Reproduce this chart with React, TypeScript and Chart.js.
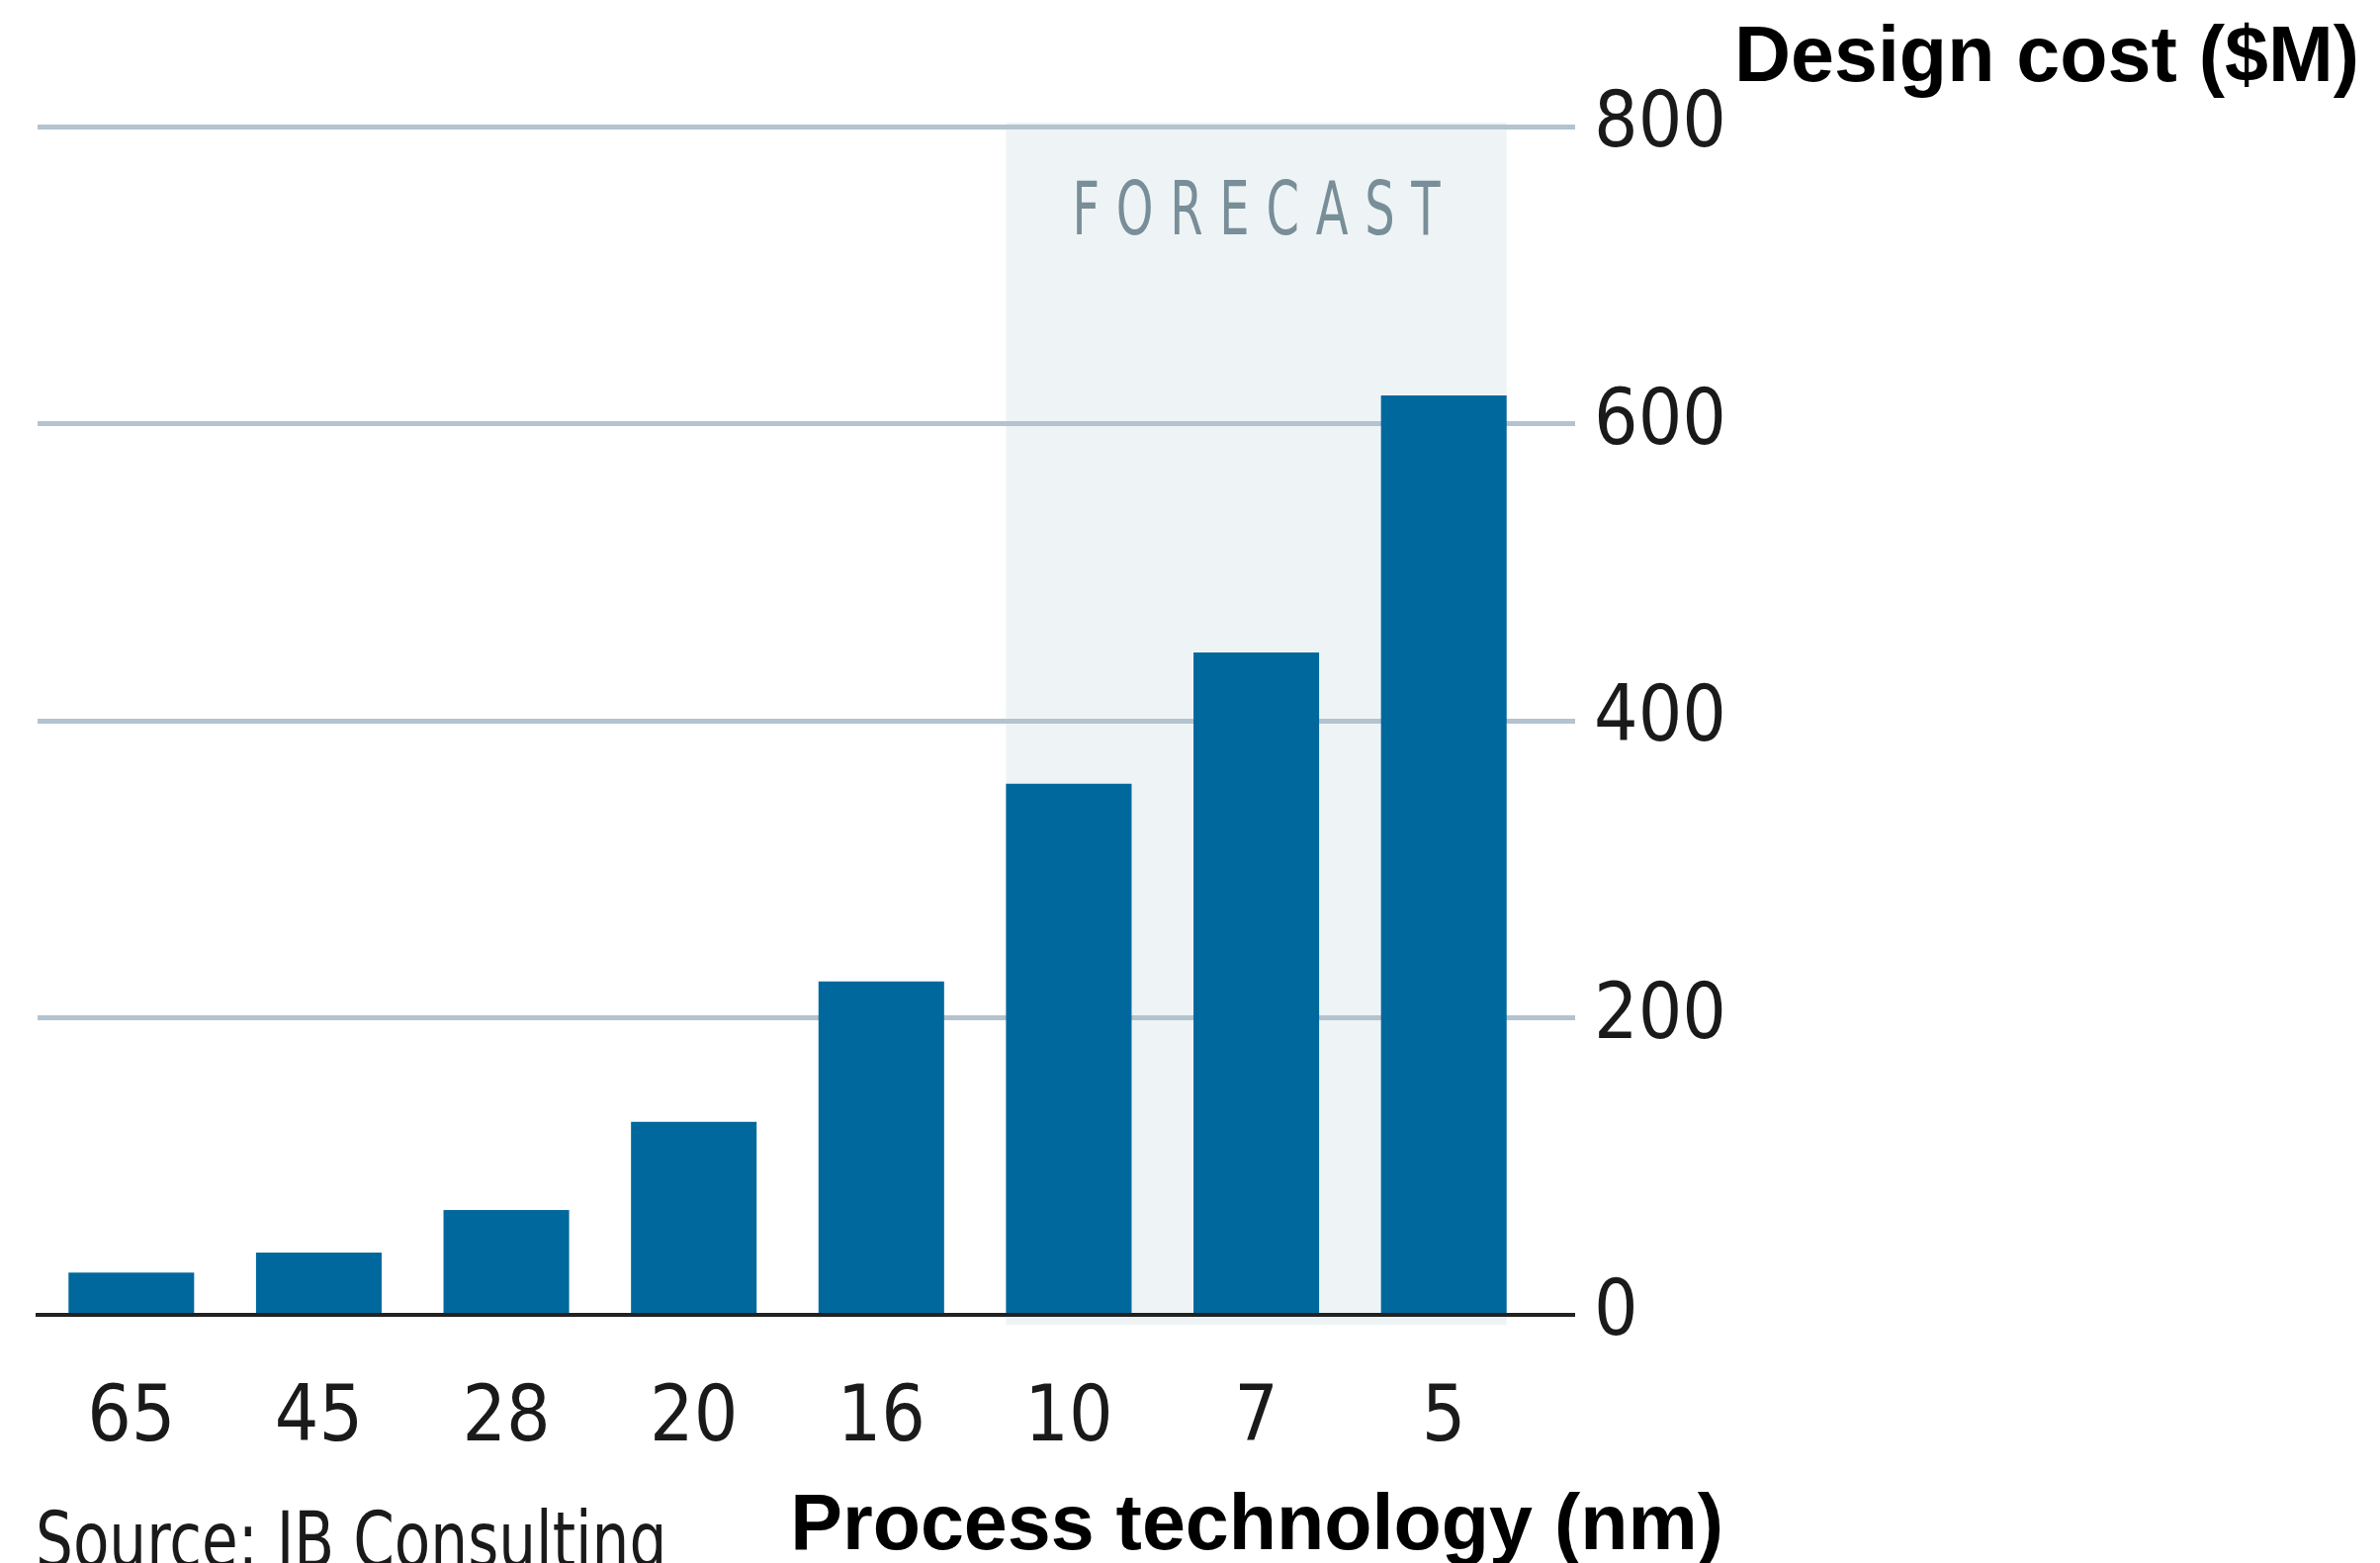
import React, { useEffect, useRef } from "react";
import { Chart, registerables } from "chart.js";

Chart.register(...registerables);

// ---- data ----
const categories = ["65", "45", "28", "20", "16", "10", "7", "5"];
const designCost = [28.5, 42, 70.5, 130, 224.5, 357.5, 446, 619];
const yMin = 0;
const yMax = 800;
const yStep = 200;
const forecastCategories = ["10", "7", "5"];
const forecastLabel = "FORECAST";
const yTitle = "Design cost ($M)";
const xTitle = "Process technology (nm)";
const sourceNote = "Source: IB Consulting";

// ---- styles ----
const W = 2407;
const H = 1581;
const COND_FONT = "'DejaVu Sans Condensed', 'DejaVu Sans', sans-serif";
const BOLD_FONT = "'Liberation Sans', Arial, Helvetica, sans-serif";
const BAR_COLOR = "#00689d";
const GRID_COLOR = "#b3c3cf";
const AXIS_COLOR = "#222222";
const BAND_COLOR = "#eef4f5";
const FORECAST_COLOR = "#788e98";
const TEXT_COLOR = "#1a1a1a";

const forecastPlugin = {
  id: "forecastBand",
  beforeDraw(chart: any) {
    const ctx = chart.ctx;
    const meta = chart.getDatasetMeta(0);
    const idx = forecastCategories.map((c) => categories.indexOf(c));
    const first = meta.data[Math.min(...idx)];
    const last = meta.data[Math.max(...idx)];
    if (!first || !last) return;
    const left = first.x - first.width / 2;
    const right = last.x + last.width / 2;
    const ys = chart.scales.y;
    const top = ys.getPixelForValue(yMax) - 4;
    const bottom = ys.getPixelForValue(yMin) + 10;
    ctx.save();
    ctx.fillStyle = BAND_COLOR;
    ctx.fillRect(left, top, right - left, bottom - top);

    ctx.font = `74px ${COND_FONT}`;
    ctx.fillStyle = FORECAST_COLOR;
    ctx.textBaseline = "alphabetic";
    ctx.textAlign = "left";
    const w0 = ctx.measureText(forecastLabel).width;
    const sx = 0.72;
    const target = (right - left) * 0.735;
    const ls = (target / sx - w0) / (forecastLabel.length - 1);
    (ctx as any).letterSpacing = `${ls}px`;
    const cx = (left + right) / 2;
    ctx.translate(cx - target / 2, top + 113);
    ctx.scale(sx, 1);
    ctx.fillText(forecastLabel, 0, 0);
    ctx.restore();
  },
};

function BarChart() {
  const ref = useRef<HTMLCanvasElement | null>(null);
  useEffect(() => {
    if (!ref.current) return;
    const chart = new Chart(ref.current, {
      type: "bar",
      data: {
        labels: categories,
        datasets: [
          {
            data: designCost,
            backgroundColor: BAR_COLOR,
            borderWidth: 0,
            barPercentage: 0.67,
            categoryPercentage: 1,
          },
        ],
      },
      options: {
        responsive: false,
        animation: false,
        devicePixelRatio: 1,
        layout: { padding: { left: 38, top: 128, right: 662, bottom: 101 } },
        plugins: {
          legend: { display: false },
          tooltip: { enabled: false },
          title: { display: false },
        },
        scales: {
          x: {
            grid: { display: false },
            border: { display: true, color: AXIS_COLOR, width: 4, z: 1 },
            ticks: {
              font: { family: COND_FONT, size: 78 },
              color: TEXT_COLOR,
              padding: 52,
              maxRotation: 0,
              autoSkip: false,
            },
            afterFit: (s: any) => {
              s.height = 150;
            },
          },
          y: {
            position: "right",
            min: yMin,
            max: yMax,
            grid: {
              color: (c: any) => (c.tick && c.tick.value === 0 ? AXIS_COLOR : GRID_COLOR),
              lineWidth: (c: any) => (c.tick && c.tick.value === 0 ? 4 : 5),
              drawTicks: true,
              tickLength: 38,
            },
            border: { display: false },
            ticks: {
              stepSize: yStep,
              font: { family: COND_FONT, size: 78 },
              color: TEXT_COLOR,
              padding: 19,
              crossAlign: "near",
            },
            afterFit: (s: any) => {
              s.width = 190;
            },
          },
        },
      },
      plugins: [forecastPlugin],
    } as any);
    return () => chart.destroy();
  }, []);
  return (
    <canvas
      ref={ref}
      width={W}
      height={H}
      style={{ position: "absolute", left: 0, top: 0, width: W, height: H }}
    />
  );
}

export default function App() {
  return (
    <div
      style={{
        position: "fixed",
        left: 0,
        top: 0,
        width: W,
        height: H,
        overflow: "hidden",
        background: "#ffffff",
      }}
    >
      <BarChart />
      <div
        style={{
          position: "absolute",
          left: 1754,
          top: 15,
          font: `bold 79px ${BOLD_FONT}`,
          lineHeight: "79px",
          color: "#000",
          whiteSpace: "nowrap",
        }}
      >
        {yTitle}
      </div>
      <div
        style={{
          position: "absolute",
          right: W - 1743,
          top: 1500,
          font: `bold 79px ${BOLD_FONT}`,
          lineHeight: "79px",
          color: "#000",
          whiteSpace: "nowrap",
        }}
      >
        {xTitle}
      </div>
      <div
        style={{
          position: "absolute",
          left: 36,
          top: 1519,
          font: `78px ${COND_FONT}`,
          lineHeight: "78px",
          color: TEXT_COLOR,
          whiteSpace: "nowrap",
          transform: "scaleX(0.85)",
          transformOrigin: "left top",
        }}
      >
        {sourceNote}
      </div>
    </div>
  );
}
